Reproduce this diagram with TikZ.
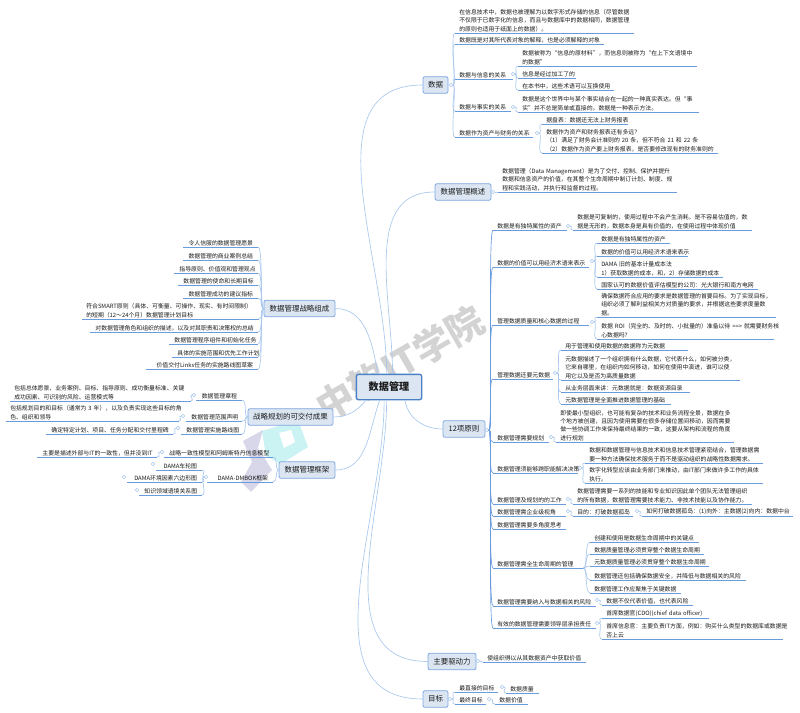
\documentclass[tikz,border=0pt]{standalone}
\usepackage{fontspec}
\setmainfont{Noto Sans CJK SC}
\definecolor{boxfill}{HTML}{DCE6F2}
\definecolor{boxline}{HTML}{7EA6E0}
\definecolor{rootline}{HTML}{4A80C8}
\definecolor{uline}{HTML}{6A9BDC}
\definecolor{connline}{HTML}{A9C8EE}
\definecolor{inktext}{HTML}{1A1A1A}
\tikzset{
    rootbox/.style={draw=rootline,line width=1pt,fill=boxfill,rounded corners=1.5pt,font=\fontsize{7.6pt}{9pt}\selectfont\bfseries,text=inktext,minimum width=49pt,minimum height=19pt,inner sep=0pt},
    mainbox/.style={draw=boxline,line width=.6pt,fill=boxfill,rounded corners=1.5pt,font=\fontsize{5.6pt}{7pt}\selectfont,text=inktext,minimum width=#1*0.75pt,minimum height=12.5pt,inner sep=0pt},
    leaf/.style={anchor=south west,align=left,text width=#1*0.75pt-6pt,inner xsep=3pt,inner ysep=.8pt,font=\fontsize{4.4pt}{6.2pt}\selectfont,text=inktext,append after command={(\tikzlastnode.south west) edge[ulinestyle] (\tikzlastnode.south east)}},
    rleaf/.style={anchor=south east,align=right,text width=#1*0.75pt-7pt,inner xsep=3.5pt,inner ysep=.8pt,font=\fontsize{4.4pt}{6.2pt}\selectfont,text=inktext,append after command={(\tikzlastnode.south west) edge[ulinestyle] (\tikzlastnode.south east)}},
    ulinestyle/.style={draw=uline,line width=.65pt},
    conn/.style={draw=connline,line width=.5pt},
    branch/.style={out=0,in=180,out distance=3pt,in distance=4pt},
    rbranch/.style={out=180,in=0,out distance=3pt,in distance=4pt},
    knob/.style={circle,draw=connline,fill=white,line width=.4pt,minimum size=2.6pt,inner sep=0pt},
}
\begin{document}
\begin{tikzpicture}[x=0.75pt,y=-0.75pt]
    \useasboundingbox (0,0) rectangle (800,713);
    % watermark
    \fill[gray!70!blue!60,opacity=.4] (243,441) -- (263,430) -- (258,448) -- (272,470) -- (251,492) -- (241,482) -- (252,462) -- cycle;
    \fill[teal!45!cyan!45,opacity=.45] (262,431) -- (298,420) -- (308,447) -- (281,464) -- (266,456) -- cycle;
    \fill[white] (279,433) -- (291,430) -- (295,442) -- (284,448) -- cycle;
    \node[rotate=30,text=gray,opacity=.35,font=\fontsize{28pt}{30pt}\selectfont\bfseries] (wm) at (400,363) {中软IT学院};

    \node[rootbox] (root) at (389,387) {数据管理};
    \node[mainbox=25] (d) at (435.5,85) {数据};
    \node[mainbox=56] (ov) at (463,192) {数据管理概述};
    \node[mainbox=42] (pr) at (464,429) {12项原则};
    \node[mainbox=48] (dr) at (452,661.5) {主要驱动力};
    \node[mainbox=25] (go) at (435.5,699) {目标};
    \node[mainbox=71] (st) at (299.5,308.5) {数据管理战略组成};
    \node[mainbox=85] (de) at (290.5,417) {战略规划的可交付成果};
    \node[mainbox=56] (fw) at (307,470) {数据管理框架};

    \draw[conn] (root.100) to[out=90,in=180] (d.west);
    \draw[conn] (root.75) to[out=90,in=180] (ov.west);
    \draw[conn] (root.-40) to[out=-80,in=180] (pr.west);
    \draw[conn] (root.-100) to[out=-90,in=180] (dr.west);
    \draw[conn] (root.-110) to[out=-90,in=180] (go.west);
    \draw[conn] (st.east) to[out=0,in=100] (root.130);
    \draw[conn] (de.east) to[out=0,in=-130] (root.-150);
    \draw[conn] (fw.east) to[out=0,in=-110] (root.-125);

    % data
    \node[knob] (md) at (451,85) {};
    \node[leaf=178] (d1) at (455,33) {在信息技术中，数据也被理解为以数字形式存储的信息（尽管数据\\不仅限于已数字化的信息，而且与数据库中的数据相同，数据管理\\的原则也适用于纸面上的数据）。};
    \node[leaf=148] (d2) at (455,44) {数据既是对其所代表对象的解释，也是必须解释的对象};
    \node[leaf=57] (d3) at (455,79) {数据与信息的关系};
    \node[leaf=55] (d4) at (455,111) {数据与事实的关系};
    \node[leaf=77] (d5) at (455,137) {数据作为资产与财务的关系};
    \node[knob] (m3) at (513,74) {};
    \node[knob] (m4) at (513,107) {};
    \node[knob] (m5) at (537,133) {};
    \node[leaf=178] (d3a) at (518,66) {数据被称为“信息的原材料”，而信息则被称为“在上下文语境中\\的数据”};
    \node[leaf=57] (d3b) at (518,78) {信息是经过加工了的};
    \node[leaf=95] (d3c) at (518,90) {在本书中，这些术语可以互换使用};
    \node[leaf=180] (d4a) at (518,112) {数据是这个世界中与某个事实结合在一起的一种真实表达。但“事\\实”并不总是简单或直接的。数据是一种表示方法。};
    \node[leaf=85] (d5a) at (542,124) {据盘表：数据还无法上财务报表};
    \node[leaf=175] (d5b) at (542,153) {数据作为资产和财务报表还有多远？\\（1）满足了财务会计准则的~20~条，但不符合~21~和~22~条\\（2）数据作为资产要上财务报表，是否要修改现有的财务准则的};
    \foreach \n in {d1,d2,d3,d4,d5}
        \draw[conn] (md.east) to[branch] (\n.south west);
    \foreach \n in {d3a,d3b,d3c}
        \draw[conn] (m3.east) to[branch] (\n.south west);
    \draw[conn] (m4.east) to[branch] (d4a.south west);
    \foreach \n in {d5a,d5b}
        \draw[conn] (m5.east) to[branch] (\n.south west);

    % overview
    \node[knob] (mv) at (493,192) {};
    \node[leaf=178] (ov1) at (498,192) {数据管理（Data~Management）是为了交付、控制、保护并提升\\数据和信息资产的价值，在其整个生命周期中制订计划、制度、规\\程和实践活动，并执行和监督的过程。};
    \draw[conn] (mv.east) to[branch] (ov1.south west);

    % principles
    \node[knob] (mp) at (487,430) {};
    \node[leaf=73] (p1) at (493,230) {数据是有独特属性的资产};
    \node[leaf=95] (p2) at (493,267) {数据的价值可以用经济术语来表示};
    \node[leaf=95] (p3) at (493,325) {管理数据质量和核心数据的过程};
    \node[leaf=59] (p4) at (493,379) {管理数据还要元数据};
    \node[leaf=55] (p5) at (493,442) {数据管理需要规划};
    \node[leaf=84] (p6) at (493,473) {数据管理须能够跨职能解决决策};
    \node[leaf=72] (p7) at (493,504) {数据管理及规划的的工作};
    \node[leaf=72] (p8) at (493,516) {数据管理需企业级视角};
    \node[leaf=72] (p9) at (493,529) {数据管理需要多角度思考};
    \node[leaf=90] (p10) at (493,568) {数据管理需全生命周期的管理};
    \node[leaf=102] (p11) at (493,606) {数据管理需要纳入与数据相关的风险};
    \node[leaf=102] (p12) at (493,628) {有效的数据管理需要领导层承担责任};
    \foreach \n in {p1,p2,p3,p4,p5,p6,p7,p8,p9,p10,p11,p12}
        \draw[conn,draw=uline] (mp.east) to[branch] (\n.south west);

    \node[knob] (m1) at (568,226) {};
    \node[leaf=178] (p1a) at (573,230) {数据是可复制的，使用过程中不会产生消耗，是不容易估值的，数\\据是无形的，数据本身是具有价值的，在使用过程中体现价值};
    \draw[conn] (m1.east) to[branch] (p1a.south west);

    \node[knob] (m2) at (592,261) {};
    \node[leaf=72] (p2a) at (597,243) {数据是有独特属性的资产};
    \node[leaf=90] (p2b) at (597,256) {数据的价值可以用经济术语来表示};
    \node[leaf=125] (p2c) at (597,277) {DAMA~旧的基本计量成本法\\1）获取数据的成本，和，2）存储数据的成本};
    \node[leaf=160] (p2d) at (597,289) {国家认可的数据价值评估模型的公司：光大银行和南方电网};
    \foreach \n in {p2a,p2b,p2c,p2d}
        \draw[conn] (m2.east) to[branch] (\n.south west);

    \node[knob] (m33) at (592,322) {};
    \node[leaf=178] (p3a) at (597,317) {确保数据符合应用的要求是数据管理的首要目标。为了实现目标，\\组织必须了解利益相关方对质量的要求，并根据这些要求度量数\\据。};
    \node[leaf=176] (p3b) at (597,339) {数据~ROI（完全的、及时的、小批量的）准备以待~==>~就需要财务核\\心数据吗？};
    \foreach \n in {p3a,p3b}
        \draw[conn] (m33.east) to[branch] (\n.south west);

    \node[knob] (m44) at (555,373) {};
    \node[leaf=126] (p4a) at (561,350) {用于管理和使用数据的数据称为元数据};
    \node[leaf=178] (p4b) at (561,380) {元数据描述了一个组织拥有什么数据，它代表什么，如何被分类，\\它来自哪里，在组织内如何移动，如何在使用中演进，谁可以使\\用它以及是否为高质量数据};
    \node[leaf=128] (p4c) at (561,392) {从业务层面来讲：元数据就是：数据资源目录};
    \node[leaf=109] (p4d) at (561,404) {元数据管理是全面推进数据管理的基础};
    \foreach \n in {p4a,p4b,p4c,p4d}
        \draw[conn] (m44.east) to[branch] (\n.south west);

    \node[knob] (m55) at (551,437) {};
    \node[leaf=177] (p5a) at (556,442) {即使最小型组织，也可能有复杂的技术和业务流程全景，数据在多\\个地方被创建，且因为使用需要在很多存储位置间移动，因而需要\\做一些协调工作来保持最终结果的一致，这要从架构和流程的角度\\进行规划};
    \draw[conn] (m55.east) to[branch] (p5a.south west);

    \node[knob] (m6) at (580,468) {};
    \node[leaf=177] (p6a) at (585,463) {数据和数据管理与信息技术和信息技术管理紧密结合，管理数据需\\要一种方法确保技术服务于而不是驱动组织的战略性数据需求。};
    \node[leaf=177] (p6b) at (585,483) {数字化转型应该由业务部门来推动，由IT部门来做许多工作的具体\\执行。};
    \foreach \n in {p6a,p6b}
        \draw[conn] (m6.east) to[branch] (\n.south west);

    \node[knob] (m7) at (568,499) {};
    \node[leaf=178] (p7a) at (573,504) {数据管理需要一系列的技能和专业知识因此单个团队无法管理组织\\的所有数据，数据管理需要技术能力、非技术技能以及协作能力。};
    \draw[conn] (m7.east) to[branch] (p7a.south west);

    \node[knob] (m8) at (568,511) {};
    \node[leaf=59] (p8a) at (573,516) {目的：打破数据孤岛};
    \node[knob] (m88) at (637,511) {};
    \node[leaf=150] (p8b) at (642,516) {如何打破数据孤岛：(1)向外：主数据(2)向内：数据中台};
    \draw[conn] (m8.east) to[branch] (p8a.south west);
    \draw[conn] (m88.east) to[branch] (p8b.south west);

    \node[leaf=108] (p10a) at (590,542) {创建和使用是数据生命周期中的关键点};
    \node[leaf=113] (p10b) at (590,554) {数据质量管理必须贯穿整个数据生命周期};
    \node[leaf=118] (p10c) at (590,566) {元数据质量管理必须贯穿整个数据生命周期};
    \node[leaf=155] (p10d) at (590,580) {数据管理还包括确保数据安全，并降低与数据相关的风险};
    \node[leaf=90] (p10e) at (590,593) {数据管理工作应聚焦于关键数据};
    \foreach \n in {p10a,p10b,p10c,p10d,p10e}
        \draw[conn] (p10.south east) to[branch] (\n.south west);

    \node[knob] (m11) at (597,600) {};
    \node[leaf=90] (p11a) at (602,605) {数据不仅代表价值，也代表风险};
    \draw[conn] (m11.east) to[branch] (p11a.south west);

    \node[knob] (m12) at (597,623) {};
    \node[leaf=106] (p12a) at (602,618) {首席数据官(CDO)(chief~data~officer)};
    \node[leaf=180] (p12b) at (602,639) {首席信息官：主要负责IT方面，例如：购买什么类型的数据库或数据是\\否上云};
    \foreach \n in {p12a,p12b}
        \draw[conn] (m12.east) to[branch] (\n.south west);

    % driver and goals
    \node[knob] (mr) at (478,661) {};
    \node[leaf=102] (dr1) at (483,662) {使组织得以从其数据资产中获取价值};
    \draw[conn] (mr.east) to[branch] (dr1.south west);

    \node[knob] (mg) at (450,699) {};
    \node[leaf=42] (g1) at (455,692) {最直接的目标};
    \node[knob] (mg1) at (502,687) {};
    \node[leaf=32] (g1a) at (506,693) {数据质量};
    \node[leaf=30] (g2) at (455,704) {最终目标};
    \node[knob] (mg2) at (489,699) {};
    \node[leaf=32] (g2a) at (495,704) {数据价值};
    \foreach \n in {g1,g2}
        \draw[conn] (mg.east) to[branch] (\n.south west);
    \draw[conn] (mg1.east) to[branch] (g1a.south west);
    \draw[conn] (mg2.east) to[branch] (g2a.south west);

    % strategy parts
    \node[rleaf=74] (s1) at (258,247) {令人信服的数据管理愿景};
    \node[rleaf=74] (s2) at (258,260) {数据管理的商业案例总结};
    \node[rleaf=83] (s3) at (258,273) {指导原则、价值观和管理观点};
    \node[rleaf=79] (s4) at (258,285) {数据管理的使命和长期目标};
    \node[rleaf=74] (s5) at (258,298) {数据管理成功的建议指标};
    \node[leaf=176] (s6) at (82,319) {符合SMART原则（具体、可衡量、可操作、现实、有时间限制）\\的短期（12～24个月）数据管理计划目标};
    \node[rleaf=167] (s7) at (258,332) {对数据管理角色和组织的描述，以及对其职责和决策权的总结};
    \node[rleaf=88] (s8) at (258,344) {数据管理程序组件和初始化任务};
    \node[rleaf=85] (s9) at (258,357) {具体的实施范围和优先工作计划};
    \node[rleaf=111] (s10) at (258,369) {价值交付Links任务的实施路线图草案};
    \foreach \n in {s1,s2,s3,s4,s5,s6,s7,s8,s9,s10}
        \draw[conn] (st.west) to[rbranch] (\n.south east);

    % deliverables
    \node[rleaf=45] (e1) at (242,400) {数据管理章程};
    \node[rleaf=55] (e2) at (242,421) {数据管理范围声明};
    \node[rleaf=60] (e3) at (242,434) {数据管理实施路线图};
    \foreach \n in {e1,e2,e3}
        \draw[conn] (de.west) to[rbranch] (\n.south east);
    \node[knob] (me1) at (194,395) {};
    \node[knob] (me2) at (183,416) {};
    \node[knob] (me3) at (178,428) {};
    \node[leaf=180] (e1a) at (10,401) {包括总体愿景、业务案例、目标、指导原则、成功衡量标准、关键\\成功因素、可识别的风险、运营模式等};
    \node[leaf=172] (e2a) at (6,421) {包括规划目的和目标（通常为~3~年），以及负责实现这些目标的角\\色、组织和领导};
    \node[rleaf=126] (e3a) at (173,434) {确定特定计划、项目、任务分配和交付里程碑};
    \draw[conn] (me1.west) to[rbranch] (e1a.south east);
    \draw[conn] (me2.west) to[rbranch] (e2a.south east);
    \draw[conn] (me3.west) to[rbranch] (e3a.south east);

    % framework
    \node[rleaf=108] (f1) at (273,457) {战略一致性模型和阿姆斯特丹信息模型};
    \node[rleaf=65] (f2) at (273,482) {DAMA-DMBOK框架};
    \foreach \n in {f1,f2}
        \draw[conn] (fw.west) to[rbranch] (\n.south east);
    \node[knob] (mf1) at (162,452) {};
    \node[rleaf=119] (f1a) at (157,457) {主要是描述外部与IT的一致性，但并没到IT};
    \draw[conn] (mf1.west) to[rbranch] (f1a.south east);
    \node[knob] (mf2) at (206,477) {};
    \node[rleaf=45] (f2a) at (202,470) {DAMA车轮图};
    \node[rleaf=74] (f2b) at (202,482) {DAMA环境因素六边形图};
    \node[rleaf=62] (f2c) at (202,495) {知识领域语境关系图};
    \foreach \n in {f2a,f2b,f2c}
        \draw[conn] (mf2.west) to[rbranch] (\n.south east);
    \node[knob] (mfa) at (153,464) {};
    \node[knob] (mfb) at (124,477) {};
    \node[knob] (mfc) at (137,490) {};
\end{tikzpicture}
\end{document}
